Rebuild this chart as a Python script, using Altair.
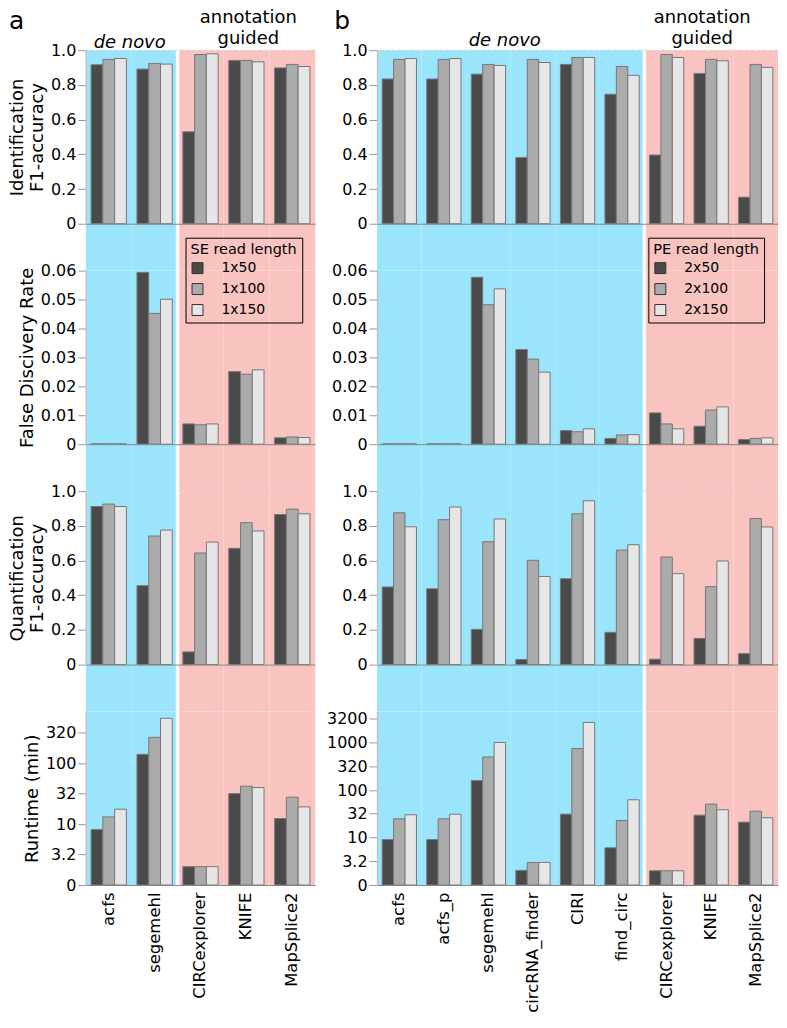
import altair as alt
import pandas as pd

# ---------------- data ----------------
tools_a = ["acfs", "segemehl", "CIRCexplorer", "KNIFE", "MapSplice2"]
denovo_a = ["acfs", "segemehl"]
annot_a = ["CIRCexplorer", "KNIFE", "MapSplice2"]
lengths_a = ["1x50", "1x100", "1x150"]

tools_b = ["acfs", "acfs_p", "segemehl", "circRNA_finder", "CIRI", "find_circ",
           "CIRCexplorer", "KNIFE", "MapSplice2"]
denovo_b = ["acfs", "acfs_p", "segemehl", "circRNA_finder", "CIRI", "find_circ"]
annot_b = ["CIRCexplorer", "KNIFE", "MapSplice2"]
lengths_b = ["2x50", "2x100", "2x150"]

# panel a (SE)
a_id_50 = [0.916, 0.891, 0.530, 0.941, 0.898]
a_id_100 = [0.947, 0.924, 0.975, 0.941, 0.918]
a_id_150 = [0.952, 0.920, 0.979, 0.933, 0.906]

a_fdr_50 = [0.0001, 0.0594, 0.0070, 0.0251, 0.0022]
a_fdr_100 = [0.0001, 0.0452, 0.0067, 0.0242, 0.0025]
a_fdr_150 = [0.0001, 0.0501, 0.0070, 0.0257, 0.0023]

a_q_50 = [0.911, 0.455, 0.073, 0.670, 0.865]
a_q_100 = [0.925, 0.741, 0.643, 0.818, 0.896]
a_q_150 = [0.911, 0.775, 0.706, 0.770, 0.869]

a_rt_50 = [8.1, 139, 2.0, 31.6, 12.3]
a_rt_100 = [13.1, 264, 2.0, 41.7, 27.6]
a_rt_150 = [17.5, 541, 2.0, 39.6, 19.1]

# panel b (PE)
b_id_50 = [0.834, 0.834, 0.862, 0.382, 0.918, 0.746, 0.396, 0.866, 0.153]
b_id_100 = [0.947, 0.947, 0.918, 0.947, 0.958, 0.906, 0.975, 0.947, 0.918]
b_id_150 = [0.952, 0.952, 0.912, 0.929, 0.958, 0.855, 0.958, 0.939, 0.901]

b_fdr_50 = [0.0001, 0.0001, 0.0577, 0.0327, 0.0047, 0.0020, 0.0108, 0.0062, 0.0016]
b_fdr_100 = [0.0001, 0.0001, 0.0482, 0.0294, 0.0043, 0.0032, 0.0070, 0.0118, 0.0020]
b_fdr_150 = [0.0001, 0.0001, 0.0537, 0.0249, 0.0053, 0.0033, 0.0053, 0.0129, 0.0022]

b_q_50 = [0.447, 0.437, 0.203, 0.029, 0.495, 0.186, 0.031, 0.151, 0.063]
b_q_100 = [0.875, 0.835, 0.708, 0.601, 0.869, 0.660, 0.620, 0.449, 0.842]
b_q_150 = [0.794, 0.908, 0.839, 0.508, 0.944, 0.691, 0.524, 0.597, 0.793]

b_rt_50 = [9.1, 9.1, 160, 2.04, 31.3, 6.1, 2.0, 29.8, 21.2]
b_rt_100 = [25, 25, 505, 3.0, 760, 23, 2.0, 51, 36.2]
b_rt_150 = [30.4, 31.3, 1020, 3.0, 2700, 63, 2.0, 38.8, 26.3]

f1_ticks = [0, 0.2, 0.4, 0.6, 0.8, 1.0]
fdr_ticks = [0, 0.01, 0.02, 0.03, 0.04, 0.05, 0.06]
rt_ticks_a = [1, 3.2, 10, 32, 100, 320]
rt_ticks_b = [1, 3.2, 10, 32, 100, 320, 1000, 3200]

# ---------------- style ----------------
BLUE = "#9ae5fc"
PINK = "#f9c3c0"
BAR_COLORS = ["#4a4a4a", "#ababab", "#e6e6e6"]
FONT = "DejaVu Sans"
H = 174
GAP = 47


def long_df(tools, lengths, series):
    rows = []
    for ln, vals in zip(lengths, series):
        for t, v in zip(tools, vals):
            rows.append({"tool": t, "len": ln, "value": v})
    return pd.DataFrame(rows)


def make_row(cfg, metric, series, ytitle, first=False, last=False, legend=False):
    tools = cfg["tools"]
    lengths = cfg["lengths"]
    W = cfg["W"]
    xscale = alt.Scale(domain=tools, paddingInner=0, paddingOuter=0)
    if last:
        xaxis = alt.Axis(title=None, labelAngle=270, labelFontSize=16.5, labelColor="black",
                         labelPadding=7, ticks=False, domainColor="#888888", domainWidth=1,
                         grid=False, zindex=1, labelFont=FONT)
    else:
        xaxis = alt.Axis(title=None, labels=False, ticks=False, domainColor="#888888",
                         domainWidth=1, grid=False, zindex=1)

    def X(**kw):
        return alt.X("tool:N", sort=tools, scale=xscale, axis=xaxis, **kw)

    bottom = H if last else H + GAP

    if metric == "f1":
        yscale = alt.Scale(domain=[0, 1], nice=False)
        values = f1_ticks
        lexpr = "datum.value == 0 ? '0' : format(datum.value, '.1f')"
    elif metric == "fdr":
        yscale = alt.Scale(domain=[0, 0.06], nice=False)
        values = fdr_ticks
        lexpr = "datum.value == 0 ? '0' : format(datum.value, '.2f')"
    else:
        yscale = alt.Scale(type="log", domain=[1, cfg["rt_max"]], nice=False)
        values = cfg["rt_ticks"]
        lexpr = "datum.value == 1 ? '0' : '' + datum.value"

    axis_kw = dict(values=values, labelExpr=lexpr, labelFontSize=16, labelColor="black",
                   labelFont=FONT, tickColor="#999999", tickSize=8, domainColor="#c4c4c4",
                   domainWidth=1.5, grid=False, labelPadding=2, zindex=1,
                   labelOverlap=False)
    if cfg["show_title"]:
        yaxis = alt.Axis(title=ytitle, titleFontSize=18, titleFontWeight="normal",
                         titleColor="black", titleFont=FONT, titlePadding=4,
                         titleLineHeight=20, **axis_kw)
    else:
        yaxis = alt.Axis(title=None, **axis_kw)

    def Y():
        return alt.Y("value:Q", scale=yscale, axis=yaxis)

    layers = []
    bg_dn = alt.Chart(pd.DataFrame({"tool": cfg["denovo"]})).mark_rect(color=BLUE).encode(
        x=X(), y=alt.value(0), y2=alt.value(bottom))
    bg_an = alt.Chart(pd.DataFrame({"tool": cfg["annot"]})).mark_rect(color=PINK).encode(
        x=X(), y=alt.value(0), y2=alt.value(bottom))
    sep = alt.Chart(pd.DataFrame({"tool": [cfg["annot"][0]]})).mark_rule(
        color="white", strokeWidth=3.5).encode(
        x=X(bandPosition=0), y=alt.value(0), y2=alt.value(bottom))
    layers += [bg_dn, bg_an, sep]

    if metric == "f1":
        grid1 = alt.Chart(pd.DataFrame({"value": [1.0]})).mark_rule(
            color="#d4d4d4", strokeDash=[3, 3], strokeWidth=1).encode(y=Y())
        layers.append(grid1)

    if legend:
        leg = alt.Legend(title=cfg["legend_title"], orient="none", legendX=cfg["legX"],
                         legendY=-33, symbolType="square", symbolSize=121,
                         symbolStrokeColor="#333333", symbolStrokeWidth=1, symbolOpacity=1,
                         strokeColor="black", padding=5, titleFontSize=14.5,
                         titleFontWeight="normal", titleColor="black", titleFont=FONT,
                         labelFontSize=14, labelColor="black", labelFont=FONT,
                         labelOffset=17, rowPadding=5, titlePadding=4)
    else:
        leg = None

    df = long_df(tools, lengths, series)
    enc = dict(
        x=X(),
        xOffset=alt.XOffset("len:N", sort=lengths,
                            scale=alt.Scale(domain=lengths, paddingInner=0, paddingOuter=0.45)),
        y=Y(),
        color=alt.Color("len:N", sort=lengths,
                        scale=alt.Scale(domain=lengths, range=BAR_COLORS), legend=leg),
    )
    if metric == "rt":
        enc["y2"] = alt.datum(1)
    bars = alt.Chart(df).mark_bar(stroke="#777777", strokeWidth=1, opacity=1).encode(**enc)
    layers.append(bars)

    if first:
        hdr_dn = alt.Chart(pd.DataFrame({"tool": [cfg["dn_anchor"]], "label": ["de novo"]})).mark_text(
            font=FONT, fontSize=18, fontStyle="italic", align="center", baseline="alphabetic",
            color="black", dx=cfg["dn_dx"]).encode(
            x=X(bandPosition=0), y=alt.value(cfg["dn_y"]), text="label:N")
        hdr_an1 = alt.Chart(pd.DataFrame({"tool": ["KNIFE"], "label": ["annotation"]})).mark_text(
            font=FONT, fontSize=18, align="center", baseline="alphabetic",
            color="black", dx=cfg["an_dx"]).encode(
            x=X(bandPosition=0.5), y=alt.value(-27), text="label:N")
        hdr_an2 = alt.Chart(pd.DataFrame({"tool": ["KNIFE"], "label": ["guided"]})).mark_text(
            font=FONT, fontSize=18, align="center", baseline="alphabetic",
            color="black", dx=cfg["an_dx"]).encode(
            x=X(bandPosition=0.5), y=alt.value(-6.5), text="label:N")
        letter = alt.Chart(pd.DataFrame({"t": [cfg["letter"]]})).mark_text(
            font=FONT, fontSize=25, align="left", baseline="alphabetic", color="black").encode(
            x=alt.value(cfg["letter_x"]), y=alt.value(-21), text="t:N")
        layers += [hdr_dn, hdr_an1, hdr_an2, letter]

    return alt.layer(*layers).properties(width=W, height=H)


cfg_a = dict(tools=tools_a, lengths=lengths_a, denovo=denovo_a, annot=annot_a, W=230,
             rt_max=700, rt_ticks=rt_ticks_a, show_title=True, legend_title="SE read length",
             legX=100, dn_anchor="segemehl", dn_dx=-2, dn_y=-2, an_dx=2, letter="a", letter_x=-77)
cfg_b = dict(tools=tools_b, lengths=lengths_b, denovo=denovo_b, annot=annot_b, W=402,
             rt_max=4600, rt_ticks=rt_ticks_b, show_title=False, legend_title="PE read length",
             legX=272, dn_anchor="circRNA_finder", dn_dx=-6, dn_y=-4, an_dx=-9, letter="b",
             letter_x=-43)


def make_col(cfg, idv, fdr, q, rt):
    rows = [
        make_row(cfg, "f1", idv, ["Identification", "F1-accuracy"], first=True),
        make_row(cfg, "fdr", fdr, "False Discivery Rate", legend=True),
        make_row(cfg, "f1", q, ["Quantification", "F1-accuracy"]),
        make_row(cfg, "rt", rt, "Runtime (min)", last=True),
    ]
    return alt.vconcat(*rows, spacing=GAP, bounds="flush").resolve_scale(
        color="independent", x="independent", y="independent", xOffset="independent")


col_a = make_col(cfg_a, [a_id_50, a_id_100, a_id_150], [a_fdr_50, a_fdr_100, a_fdr_150],
                 [a_q_50, a_q_100, a_q_150], [a_rt_50, a_rt_100, a_rt_150])
col_b = make_col(cfg_b, [b_id_50, b_id_100, b_id_150], [b_fdr_50, b_fdr_100, b_fdr_150],
                 [b_q_50, b_q_100, b_q_150], [b_rt_50, b_rt_100, b_rt_150])

chart = alt.hconcat(col_a, col_b, spacing=10,
                    padding={"left": 0, "top": 0, "right": 0, "bottom": 0}).resolve_scale(
    color="independent").configure(font=FONT).configure_view(stroke=None)

chart.save("out.html", embed_options={"renderer": "svg", "actions": False})
